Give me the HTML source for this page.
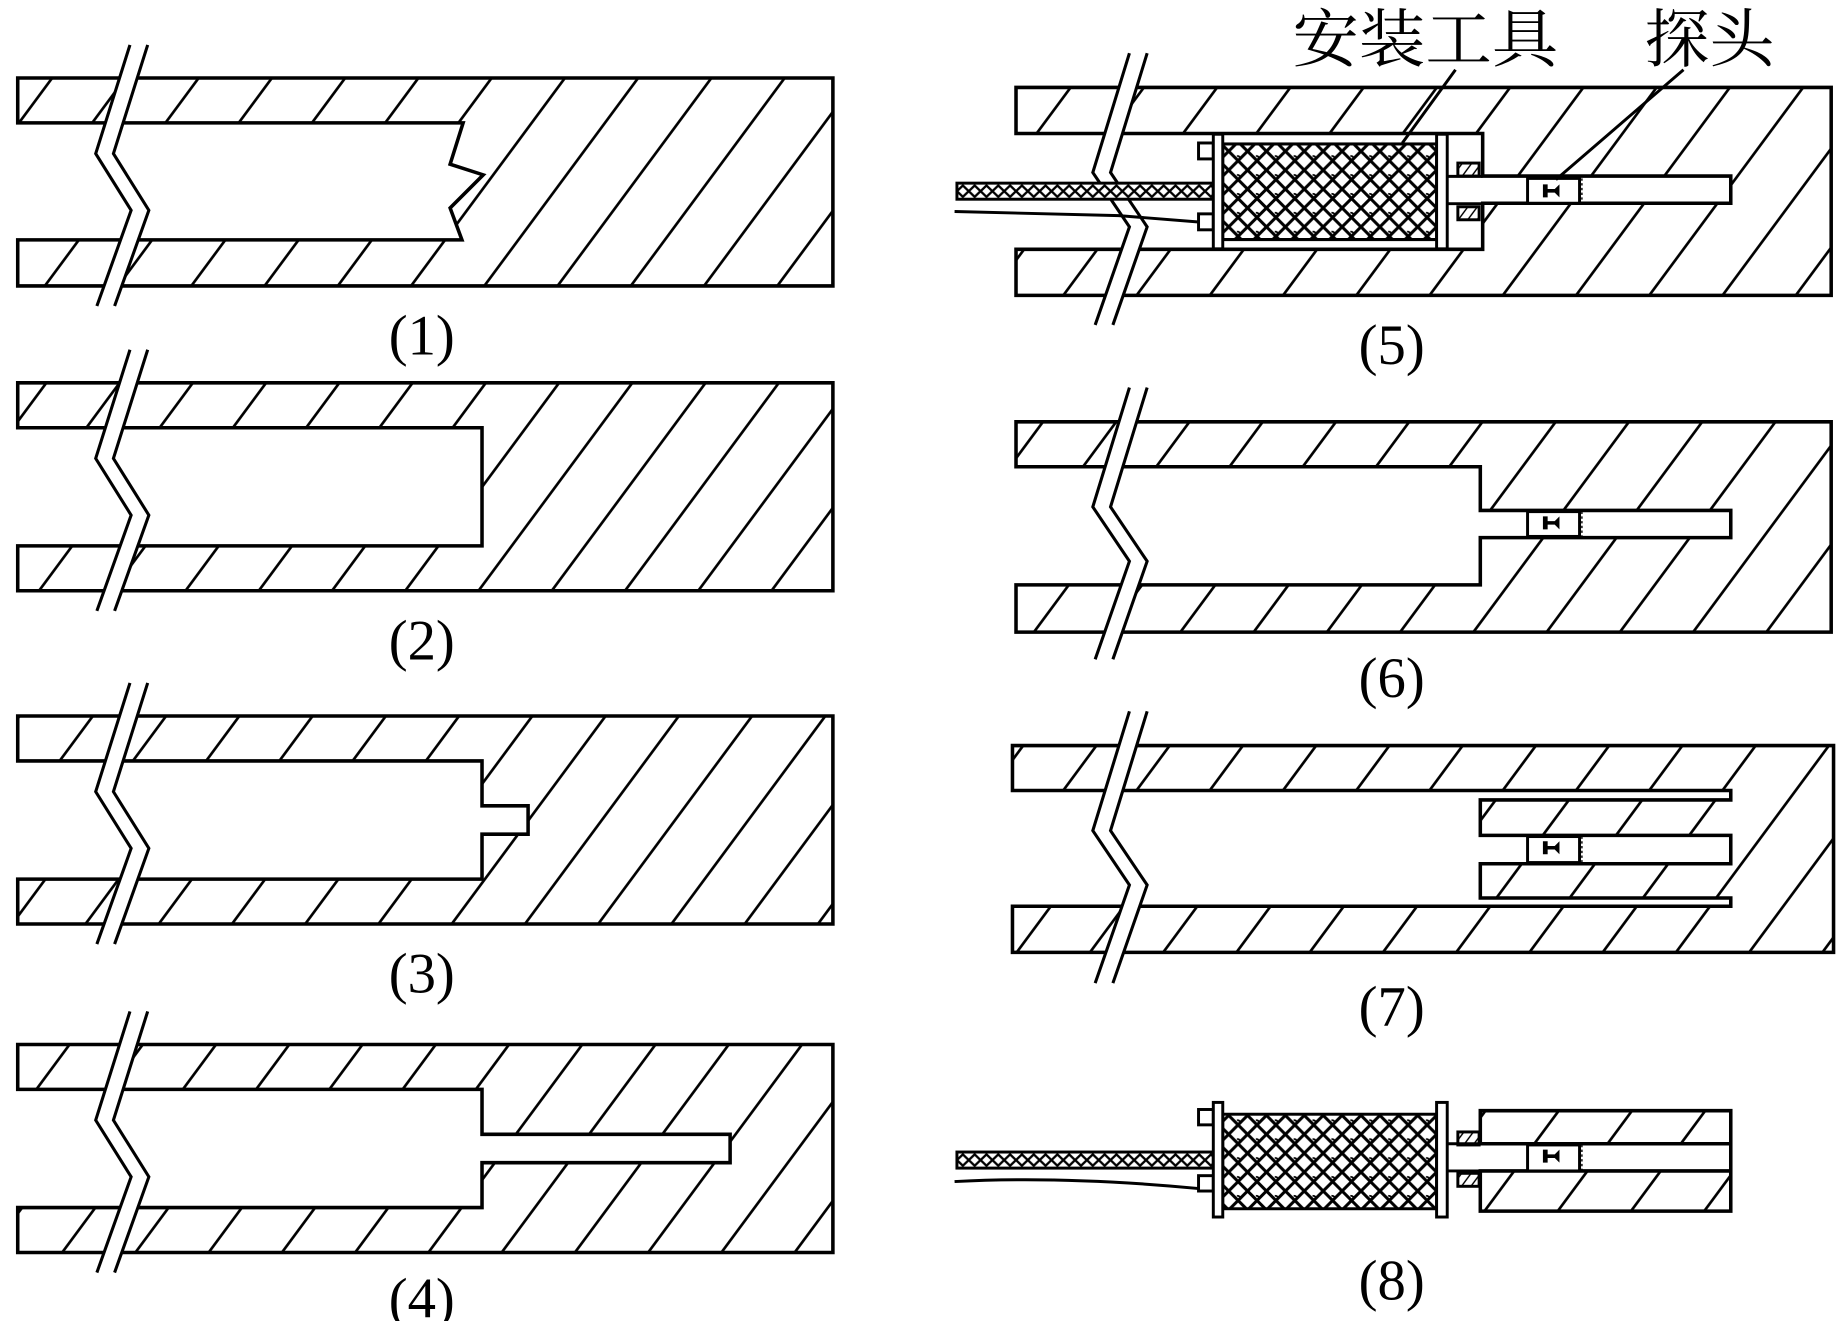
<!DOCTYPE html>
<html><head><meta charset="utf-8"><style>html,body{margin:0;padding:0;background:#fff}svg{display:block}</style></head>
<body>
<svg width="1843" height="1321" viewBox="0 0 1560 1118" preserveAspectRatio="none" xmlns="http://www.w3.org/2000/svg">
<defs>
<pattern id="h" patternUnits="userSpaceOnUse" width="62" height="20" patternTransform="skewX(-36.5)">
<line x1="31" y1="-2" x2="31" y2="22" stroke="#000" stroke-width="2.8"/>
</pattern>
<pattern id="hs" patternUnits="userSpaceOnUse" width="8" height="8" patternTransform="skewX(-36.5)">
<line x1="4" y1="-1" x2="4" y2="9" stroke="#000" stroke-width="1.5"/>
</pattern>
<pattern id="mesh" patternUnits="userSpaceOnUse" width="16" height="16">
<path d="M0,0 L16,16 M16,0 L0,16 M-8,8 L8,24 M8,-8 L24,8" stroke="#000" stroke-width="2.6" fill="none"/>
<path d="M7,4 q3,0 3,3" stroke="#000" stroke-width="1.5" fill="none"/>
</pattern>
<pattern id="cab" patternUnits="userSpaceOnUse" width="10" height="13.6" y="155">
<rect width="10" height="13.6" fill="#fff"/>
<path d="M0,6.8 L5,2 L10,6.8 L5,11.6 Z" fill="none" stroke="#000" stroke-width="2"/>
</pattern>
<pattern id="cab2" patternUnits="userSpaceOnUse" width="10" height="13.6" y="975">
<rect width="10" height="13.6" fill="#fff"/>
<path d="M0,6.8 L5,2 L10,6.8 L5,11.6 Z" fill="none" stroke="#000" stroke-width="2"/>
</pattern>
</defs>
<g fill="url(#h)" stroke="#000" stroke-width="3" fill-rule="evenodd">
<path d="M15,66 H705 V242 H15 V203 H391 L381,176 L409,148 L381,139 L392,104 H15 Z"/>
<path d="M15,324 H705 V500 H15 V462 H408 V362 H15 Z"/>
<path d="M15,606 H705 V782 H15 V744 H408 V706 H447 V682 H408 V644 H15 Z"/>
<path d="M15,884 H705 V1060 H15 V1022 H408 V984 H618 V960 H408 V922 H15 Z"/>
<path d="M860,74 H1550 V250 H860 V211 H1255 V172 H1465 V149 H1255 V113 H860 Z"/>
<path d="M860,357 H1550 V535 H860 V495 H1253 V455 H1465 V432 H1253 V395 H860 Z"/>
<path d="M857,631 H1552 V806 H857 V767 H1465 V760 H1253 V731 H1465 V707 H1253 V677 H1465 V669 H857 Z"/>
<path d="M1253,940 H1465 V1025 H1253 V991 H1465 V968 H1253 Z"/>
</g>
<g fill="none">
<g stroke="#fff" stroke-width="13">
<polyline points="117.5,38 88.5,130 118.5,178 89.5,259"/>
<polyline points="117.5,296 88.5,388 118.5,436 89.5,517"/>
<polyline points="117.5,578 88.5,670 118.5,718 89.5,799"/>
<polyline points="117.5,856 88.5,948 118.5,996 89.5,1077"/>
<polyline points="963.5,45 932.5,146 963.5,192 934.5,275"/>
<polyline points="963.5,328 932.5,429 963.5,475 934.5,558"/>
<polyline points="963.5,602 932.5,703 963.5,749 934.5,832"/>
</g>
<g stroke="#000" stroke-width="2.6">
<polyline points="110,38 81,130 111,178 82,259"/><polyline points="125,38 96,130 126,178 97,259"/>
<polyline points="110,296 81,388 111,436 82,517"/><polyline points="125,296 96,388 126,436 97,517"/>
<polyline points="110,578 81,670 111,718 82,799"/><polyline points="125,578 96,670 126,718 97,799"/>
<polyline points="110,856 81,948 111,996 82,1077"/><polyline points="125,856 96,948 126,996 97,1077"/>
<polyline points="956,45 925,146 956,192 927,275"/><polyline points="971,45 940,146 971,192 942,275"/>
<polyline points="956,328 925,429 956,475 927,558"/><polyline points="971,328 940,429 971,475 942,558"/>
<polyline points="956,602 925,703 956,749 927,832"/><polyline points="971,602 940,703 971,749 942,832"/>
</g>
</g>
<g stroke="#000" stroke-width="2.5">
<rect x="810" y="155" width="217" height="13.6" fill="url(#cab)"/>
<path d="M808,179 L947,182.5 L1016,188" fill="none"/>
<rect x="1014.5" y="121" width="12.5" height="13.5" fill="#fff"/>
<rect x="1014.5" y="181" width="12.5" height="13.5" fill="#fff"/>
<rect x="1035" y="121.8" width="181" height="81" fill="url(#mesh)"/>
<rect x="1027" y="113.6" width="8" height="97" fill="#fff"/>
<rect x="1216" y="113.6" width="9" height="97" fill="#fff"/>
<line x1="1035" y1="121.8" x2="1216" y2="121.8"/><line x1="1035" y1="202.7" x2="1216" y2="202.7"/>
<rect x="1234" y="138" width="18" height="11" fill="url(#hs)"/>
<rect x="1234" y="175" width="18" height="11" fill="url(#hs)"/>
<line x1="1225" y1="149.3" x2="1255" y2="149.3"/><line x1="1225" y1="172.4" x2="1255" y2="172.4"/>
<rect x="1293" y="151" width="44" height="21" fill="#fff"/>
<line x1="1232" y1="59" x2="1187" y2="121" fill="none"/>
<line x1="1425" y1="59" x2="1317" y2="152" fill="none"/>
</g>
<g stroke="#000" stroke-width="2.5">
<rect x="810" y="975" width="217" height="13.6" fill="url(#cab2)"/>
<path d="M808,1000 Q900,995 1016,1006" fill="none"/>
<rect x="1014.5" y="939" width="12.5" height="13" fill="#fff"/>
<rect x="1014.5" y="995" width="12.5" height="13" fill="#fff"/>
<rect x="1035" y="943" width="181" height="80" fill="url(#mesh)"/>
<rect x="1027" y="933" width="8" height="97" fill="#fff"/>
<rect x="1216" y="933" width="9" height="97" fill="#fff"/>
<rect x="1234" y="958" width="18" height="11" fill="url(#hs)"/>
<rect x="1234" y="993" width="18" height="11" fill="url(#hs)"/>
<line x1="1225" y1="968" x2="1253" y2="968"/><line x1="1225" y1="991" x2="1253" y2="991"/>
<rect x="1293" y="969" width="44" height="22" fill="#fff"/>
</g>
<g stroke="#000" stroke-width="2.5" fill="#fff">
<rect x="1293" y="433" width="44" height="21"/>
<rect x="1293" y="708" width="44" height="22"/>
</g>
<g fill="#000">
<path d="M1306,156 h4 v4 h6 l4,-4 v11 l-4,-4 h-6 v4 h-4 z"/>
<path d="M1306,437 h4 v4 h6 l4,-4 v11 l-4,-4 h-6 v4 h-4 z"/>
<path d="M1306,712 h4 v4 h6 l4,-4 v11 l-4,-4 h-6 v4 h-4 z"/>
<path d="M1306,973 h4 v4 h6 l4,-4 v11 l-4,-4 h-6 v4 h-4 z"/>
</g>
<g stroke="#000" stroke-width="1.2" stroke-dasharray="2,2">
<line x1="1339" y1="151" x2="1339" y2="172"/><line x1="1339" y1="433" x2="1339" y2="454"/>
<line x1="1339" y1="708" x2="1339" y2="730"/><line x1="1339" y1="969" x2="1339" y2="991"/>
</g>
<g font-family="'Liberation Serif', serif" font-size="48" text-anchor="middle" fill="#000">
<text x="357" y="300">(1)</text>
<text x="357" y="558">(2)</text>
<text x="357" y="840">(3)</text>
<text x="357" y="1115">(4)</text>
<text x="1178" y="308">(5)</text>
<text x="1178" y="590">(6)</text>
<text x="1178" y="868">(7)</text>
<text x="1178" y="1100">(8)</text>
</g>
<g font-family="'Liberation Serif', 'Noto Serif CJK SC', serif" font-size="54" fill="#000">
<text x="1094" y="52" textLength="225" lengthAdjust="spacingAndGlyphs">安装工具</text>
<text x="1392" y="52" textLength="110" lengthAdjust="spacingAndGlyphs">探头</text>
</g>
</svg>
</body></html>
